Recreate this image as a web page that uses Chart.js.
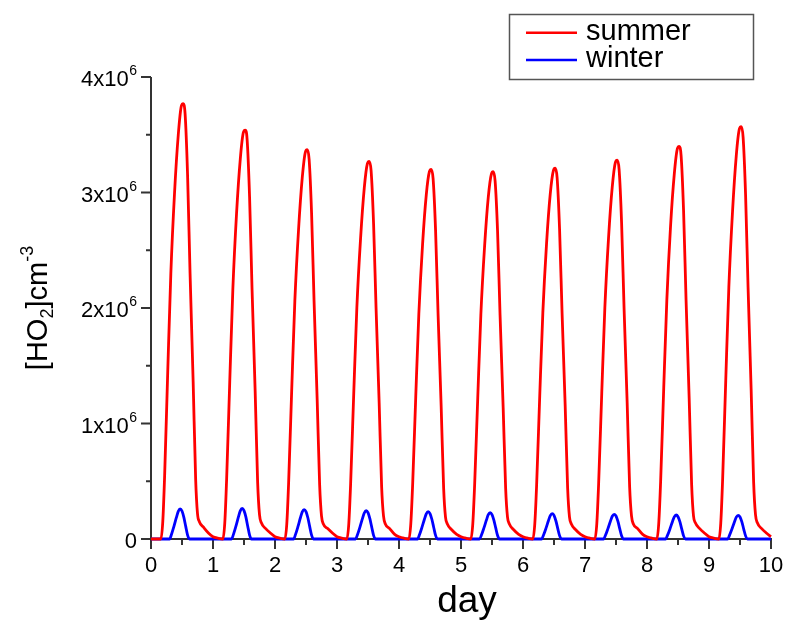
<!DOCTYPE html>
<html lang="en">

<head>
    <meta charset="UTF-8">
    <title>HO2 summer / winter</title>
    <script src="https://cdn.jsdelivr.net/npm/chart.js"></script>
    <style>
        body { margin: 0; background: #fff; }
        canvas { display: block; }
    </style>
</head>

<body>
    <canvas id="ho2Chart" width="787" height="621"></canvas>

    <script>
        // time in days, values in 10^6 molecules cm^-3
        const summerDay = [
            0.00, 0.08, 0.16, 0.19, 0.22, 0.27, 0.32, 0.38, 0.44, 0.49, 0.52, 0.55, 0.59, 0.63, 0.68, 0.72, 0.75, 0.78, 0.85, 0.93,
            1.00, 1.08, 1.16, 1.19, 1.22, 1.27, 1.32, 1.38, 1.44, 1.49, 1.52, 1.55, 1.59, 1.63, 1.68, 1.72, 1.75, 1.78, 1.85, 1.93,
            2.00, 2.08, 2.16, 2.19, 2.22, 2.27, 2.32, 2.38, 2.44, 2.49, 2.52, 2.55, 2.59, 2.63, 2.68, 2.72, 2.75, 2.78, 2.85, 2.93,
            3.00, 3.08, 3.16, 3.19, 3.22, 3.27, 3.32, 3.38, 3.44, 3.49, 3.52, 3.55, 3.59, 3.63, 3.68, 3.72, 3.75, 3.78, 3.85, 3.93,
            4.00, 4.08, 4.16, 4.19, 4.22, 4.27, 4.32, 4.38, 4.44, 4.49, 4.52, 4.55, 4.59, 4.63, 4.68, 4.72, 4.75, 4.78, 4.85, 4.93,
            5.00, 5.08, 5.16, 5.19, 5.22, 5.27, 5.32, 5.38, 5.44, 5.49, 5.52, 5.55, 5.59, 5.63, 5.68, 5.72, 5.75, 5.78, 5.85, 5.93,
            6.00, 6.08, 6.16, 6.19, 6.22, 6.27, 6.32, 6.38, 6.44, 6.49, 6.52, 6.55, 6.59, 6.63, 6.68, 6.72, 6.75, 6.78, 6.85, 6.93,
            7.00, 7.08, 7.16, 7.19, 7.22, 7.27, 7.32, 7.38, 7.44, 7.49, 7.52, 7.55, 7.59, 7.63, 7.68, 7.72, 7.75, 7.78, 7.85, 7.93,
            8.00, 8.08, 8.16, 8.19, 8.22, 8.27, 8.32, 8.38, 8.44, 8.49, 8.52, 8.55, 8.59, 8.63, 8.68, 8.72, 8.75, 8.78, 8.85, 8.93,
            9.00, 9.08, 9.16, 9.19, 9.22, 9.27, 9.32, 9.38, 9.44, 9.49, 9.52, 9.55, 9.59, 9.63, 9.68, 9.72, 9.75, 9.78, 9.85, 9.93,
            10.00
        ];
        const summerHO2 = [
            0, 0, 0, 0.15, 0.55, 1.45, 2.30, 3.00, 3.50, 3.75, 3.77, 3.68, 3.15, 2.30, 1.36, 0.52, 0.22, 0.15, 0.10, 0.05,
            0.02, 0.007, 0, 0.14, 0.52, 1.36, 2.16, 2.82, 3.29, 3.52, 3.54, 3.46, 2.96, 2.16, 1.28, 0.49, 0.21, 0.14, 0.09, 0.05,
            0.02, 0.007, 0, 0.13, 0.49, 1.30, 2.06, 2.68, 3.13, 3.35, 3.37, 3.29, 2.82, 2.06, 1.21, 0.47, 0.20, 0.13, 0.09, 0.05,
            0.02, 0.007, 0, 0.13, 0.48, 1.26, 2.00, 2.60, 3.04, 3.25, 3.27, 3.19, 2.73, 2.00, 1.18, 0.45, 0.20, 0.13, 0.09, 0.04,
            0.02, 0.007, 0, 0.13, 0.47, 1.23, 1.95, 2.55, 2.98, 3.18, 3.20, 3.12, 2.67, 1.95, 1.15, 0.44, 0.19, 0.13, 0.08, 0.04,
            0.02, 0.007, 0, 0.13, 0.47, 1.22, 1.94, 2.53, 2.96, 3.16, 3.18, 3.10, 2.66, 1.94, 1.14, 0.44, 0.19, 0.13, 0.08, 0.04,
            0.02, 0.007, 0, 0.13, 0.47, 1.24, 1.96, 2.56, 2.99, 3.19, 3.21, 3.13, 2.68, 1.96, 1.16, 0.44, 0.19, 0.13, 0.08, 0.04,
            0.02, 0.007, 0, 0.13, 0.48, 1.26, 2.00, 2.61, 3.05, 3.26, 3.28, 3.20, 2.74, 2.00, 1.18, 0.45, 0.20, 0.13, 0.09, 0.04,
            0.02, 0.007, 0, 0.14, 0.50, 1.31, 2.07, 2.71, 3.16, 3.38, 3.40, 3.32, 2.84, 2.07, 1.22, 0.47, 0.20, 0.14, 0.09, 0.05,
            0.02, 0.007, 0, 0.14, 0.52, 1.37, 2.18, 2.84, 3.32, 3.55, 3.57, 3.48, 2.98, 2.18, 1.29, 0.49, 0.21, 0.14, 0.09, 0.05,
            0.02
        ];

        const winterDay = [
            0.00,
            0.30, 0.33, 0.37, 0.41, 0.44, 0.47, 0.50, 0.53, 0.56, 0.59, 0.62,
            1.30, 1.33, 1.37, 1.41, 1.44, 1.47, 1.50, 1.53, 1.56, 1.59, 1.62,
            2.30, 2.33, 2.37, 2.41, 2.44, 2.47, 2.50, 2.53, 2.56, 2.59, 2.62,
            3.30, 3.33, 3.37, 3.41, 3.44, 3.47, 3.50, 3.53, 3.56, 3.59, 3.62,
            4.30, 4.33, 4.37, 4.41, 4.44, 4.47, 4.50, 4.53, 4.56, 4.59, 4.62,
            5.30, 5.33, 5.37, 5.41, 5.44, 5.47, 5.50, 5.53, 5.56, 5.59, 5.62,
            6.30, 6.33, 6.37, 6.41, 6.44, 6.47, 6.50, 6.53, 6.56, 6.59, 6.62,
            7.30, 7.33, 7.37, 7.41, 7.44, 7.47, 7.50, 7.53, 7.56, 7.59, 7.62,
            8.30, 8.33, 8.37, 8.41, 8.44, 8.47, 8.50, 8.53, 8.56, 8.59, 8.62,
            9.30, 9.33, 9.37, 9.41, 9.44, 9.47, 9.50, 9.53, 9.56, 9.59, 9.62,
            10.00
        ];
        const winterHO2 = [
            0,
            0, 0.039, 0.109, 0.187, 0.239, 0.260, 0.242, 0.187, 0.109, 0.034, 0,
            0, 0.040, 0.111, 0.191, 0.244, 0.265, 0.246, 0.191, 0.111, 0.034, 0,
            0, 0.038, 0.107, 0.184, 0.235, 0.255, 0.237, 0.184, 0.107, 0.033, 0,
            0, 0.037, 0.103, 0.176, 0.225, 0.245, 0.228, 0.176, 0.103, 0.032, 0,
            0, 0.036, 0.100, 0.171, 0.218, 0.237, 0.220, 0.171, 0.100, 0.031, 0,
            0, 0.034, 0.096, 0.164, 0.210, 0.228, 0.212, 0.164, 0.096, 0.030, 0,
            0, 0.033, 0.092, 0.158, 0.202, 0.220, 0.205, 0.158, 0.092, 0.029, 0,
            0, 0.032, 0.090, 0.154, 0.197, 0.214, 0.199, 0.154, 0.090, 0.028, 0,
            0, 0.031, 0.087, 0.150, 0.191, 0.208, 0.193, 0.150, 0.087, 0.027, 0,
            0, 0.031, 0.086, 0.148, 0.189, 0.205, 0.191, 0.148, 0.086, 0.027, 0,
            0
        ];

        const seriesNames = ['summer', 'winter'];
        const seriesColors = ['#ff0000', '#0000ff'];

        // axis ticks: labelled majors and short unlabelled minors
        const xMajorTicks = [0, 1, 2, 3, 4, 5, 6, 7, 8, 9, 10];
        const xMinorTicks = [0.5, 1.5, 2.5, 3.5, 4.5, 5.5, 6.5, 7.5, 8.5, 9.5];
        const yMajorTicks = [0, 1, 2, 3, 4];
        const yMinorTicks = [0.5, 1.5, 2.5, 3.5];
        const yTickLabels = ['0', '1x10', '2x10', '3x10', '4x10'];
        const yTickExp = ['', '6', '6', '6', '6'];

        const FONT = '"Liberation Sans", Arial, sans-serif';

        function toPoints(xs, ys) {
            return xs.map((x, i) => ({ x: x, y: ys[i] }));
        }

        // axes, ticks, labels and legend in the Origin style of the figure
        const originAxes = {
            id: 'originAxes',
            beforeDatasetsDraw(chart) {
                const ctx = chart.ctx;
                const xs = chart.scales.x, ys = chart.scales.y;
                const y0 = ys.getPixelForValue(0);
                const x0 = xs.getPixelForValue(0);
                ctx.save();
                ctx.strokeStyle = '#333';
                ctx.lineWidth = 2;
                ctx.beginPath();
                ctx.moveTo(x0, ys.getPixelForValue(4));
                ctx.lineTo(x0, y0 + 1);
                ctx.moveTo(x0 - 1, y0);
                ctx.lineTo(xs.getPixelForValue(10) + 1, y0);
                ctx.stroke();

                ctx.beginPath();
                xMajorTicks.forEach(v => { const p = xs.getPixelForValue(v); ctx.moveTo(p, y0); ctx.lineTo(p, y0 + 10); });
                xMinorTicks.forEach(v => { const p = xs.getPixelForValue(v); ctx.moveTo(p, y0); ctx.lineTo(p, y0 + 6); });
                yMajorTicks.forEach(v => { const p = ys.getPixelForValue(v); ctx.moveTo(x0, p); ctx.lineTo(x0 - 10, p); });
                yMinorTicks.forEach(v => { const p = ys.getPixelForValue(v); ctx.moveTo(x0, p); ctx.lineTo(x0 - 5, p); });
                ctx.stroke();
                ctx.restore();
            },
            afterDraw(chart) {
                const ctx = chart.ctx;
                const xs = chart.scales.x, ys = chart.scales.y;
                const y0 = ys.getPixelForValue(0);
                ctx.save();
                ctx.fillStyle = '#000';

                // x tick labels
                ctx.font = '22px ' + FONT;
                ctx.textAlign = 'center';
                ctx.textBaseline = 'alphabetic';
                xMajorTicks.forEach(v => ctx.fillText(String(v), xs.getPixelForValue(v), y0 + 33));

                // y tick labels with superscript exponent
                const right = 137;
                yMajorTicks.forEach((v, i) => {
                    const p = ys.getPixelForValue(v);
                    ctx.font = '14px ' + FONT;
                    const ew = yTickExp[i] ? ctx.measureText(yTickExp[i]).width : 0;
                    ctx.textAlign = 'left';
                    if (ew) ctx.fillText(yTickExp[i], right - ew, p - 2);
                    ctx.font = '22px ' + FONT;
                    ctx.textAlign = 'right';
                    ctx.fillText(yTickLabels[i], right - ew - (ew ? 0.5 : 0), p + 9);
                });

                // x title
                ctx.font = '37px ' + FONT;
                ctx.textAlign = 'center';
                ctx.fillText('day', 467, 612);

                // y title [HO2]cm-3, rotated
                ctx.translate(47, 308);
                ctx.rotate(-Math.PI / 2);
                ctx.textAlign = 'left';
                const parts = [
                    { t: '[HO', size: 29, dy: 0 },
                    { t: '2', size: 18, dy: 6 },
                    { t: ']cm', size: 29, dy: 0 },
                    { t: '-3', size: 18, dy: -14 }
                ];
                let total = 0;
                parts.forEach(pt => { ctx.font = pt.size + 'px ' + FONT; pt.w = ctx.measureText(pt.t).width; total += pt.w; });
                let cx = -total / 2;
                parts.forEach(pt => {
                    ctx.font = pt.size + 'px ' + FONT;
                    ctx.fillText(pt.t, cx, pt.dy);
                    cx += pt.w;
                });
                ctx.restore();

                // legend box
                ctx.save();
                ctx.strokeStyle = '#555';
                ctx.lineWidth = 1.5;
                ctx.strokeRect(509.5, 14.5, 244, 65);
                ctx.font = '29px ' + FONT;
                ctx.textAlign = 'left';
                ctx.fillStyle = '#000';
                const rows = [32.7, 60];
                seriesNames.forEach((name, i) => {
                    ctx.strokeStyle = seriesColors[i];
                    ctx.lineWidth = 2.5;
                    ctx.beginPath();
                    ctx.moveTo(526, rows[i]);
                    ctx.lineTo(577, rows[i]);
                    ctx.stroke();
                    ctx.fillText(name, 586, rows[i] + 7);
                });
                ctx.restore();
            }
        };

        const ctxChart = document.getElementById('ho2Chart').getContext('2d');
        const ho2Chart = new Chart(ctxChart, {
            type: 'line',
            data: {
                datasets: [{
                    label: seriesNames[0],
                    data: toPoints(summerDay, summerHO2),
                    borderColor: seriesColors[0],
                    borderWidth: 2.8,
                    pointRadius: 0,
                    cubicInterpolationMode: 'monotone',
                    fill: false,
                    clip: 6
                }, {
                    label: seriesNames[1],
                    data: toPoints(winterDay, winterHO2),
                    borderColor: seriesColors[1],
                    borderWidth: 2.8,
                    pointRadius: 0,
                    cubicInterpolationMode: 'monotone',
                    fill: false,
                    clip: 6
                }]
            },
            options: {
                responsive: false,
                animation: false,
                devicePixelRatio: 1,
                layout: { padding: { left: 151, right: 16, top: 77, bottom: 82 } },
                plugins: { legend: { display: false }, tooltip: { enabled: false } },
                scales: {
                    x: { type: 'linear', min: 0, max: 10, display: false },
                    y: { type: 'linear', min: 0, max: 4, display: false }
                }
            },
            plugins: [originAxes]
        });
    </script>
</body>

</html>
